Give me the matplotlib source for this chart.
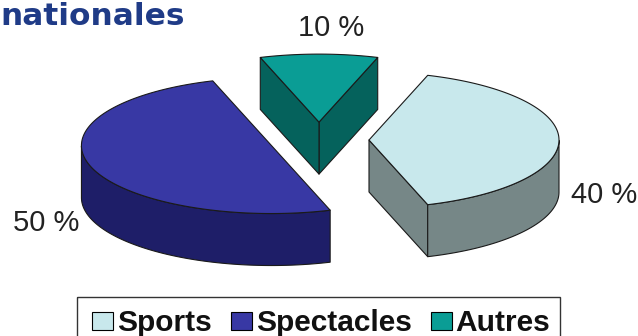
import numpy as np
import matplotlib
matplotlib.use("Agg")
import matplotlib.pyplot as plt
from matplotlib.patches import Polygon, Rectangle

# données
categories = ["Sports", "Spectacles", "Autres"]
valeurs = [40, 50, 10]

couleurs_dessus = ["#c8e8ec", "#3838a4", "#0a9d95"]
couleurs_cote = ["#768787", "#1e1e68", "#05625c"]

# géométrie du camembert 3D (en pixels)
cx, cy = 319, 140
a, b = 190, 68      # demi-axes de l'ellipse
h = 52              # épaisseur
explode = 50
start = 72          # sens horaire
label_pos = [(604, 195), (46, 223), (331, 28)]

fig = plt.figure(figsize=(6.38, 3.36), dpi=100)
ax = fig.add_axes([0, 0, 1, 1])
ax.set_xlim(0, 638)
ax.set_ylim(336, 0)
ax.axis("off")


def point(ox, oy, t, dz=0):
    t = np.radians(t)
    return ox + a * np.cos(t), oy - b * np.sin(t) + dz


def draw_poly(pts, color):
    ax.add_patch(Polygon(pts, closed=True, facecolor=color, edgecolor="#1a1a1a",
                         linewidth=0.8, joinstyle="round"))


fracs = np.array(valeurs) / sum(valeurs)
slices = []
t_end = start
for i, f in enumerate(fracs):
    t1 = t_end - 360 * f
    t2 = t_end
    slices.append((i, t1, t2))
    t_end = t1

# ordre de dessin : de l'arrière vers l'avant
order = sorted(slices, key=lambda s: np.sin(np.radians((s[1] + s[2]) / 2)), reverse=True)

for i, t1, t2 in order:
    tm = np.radians((t1 + t2) / 2)
    ox = cx + explode * np.cos(tm)
    oy = cy - explode * np.sin(tm) * b / a
    top_c = couleurs_dessus[i]
    side_c = couleurs_cote[i]

    # faces radiales
    for t, n in ((t1, t1 - 90), (t2, t2 + 90)):
        if np.sin(np.radians(n)) < -1e-6:
            p = point(ox, oy, t)
            draw_poly([(ox, oy), p, (p[0], p[1] + h), (ox, oy + h)], side_c)

    # face extérieure (partie avant)
    ts = np.linspace(t1, t2, 200)
    front = ts[np.sin(np.radians(ts)) < 0]
    if len(front) > 1:
        up = [point(ox, oy, t) for t in front]
        down = [point(ox, oy, t, h) for t in front[::-1]]
        draw_poly(up + down, side_c)

    # dessus
    top = [(ox, oy)] + [point(ox, oy, t) for t in ts]
    draw_poly(top, top_c)

for i, v in enumerate(valeurs):
    ax.text(label_pos[i][0], label_pos[i][1], f"{v} %", ha="center", va="center",
            fontsize=21, color="#222222", family="Liberation Sans")

ax.text(0, 25, "nationales", ha="left", va="baseline", fontsize=22.5, fontweight="bold",
        color="#1f3b87", family="DejaVu Sans")

# légende (dessinée à la main, coupée en bas comme l'original)
fig.canvas.draw()
renderer = fig.canvas.get_renderer()
x = 92
for i, cat in enumerate(categories):
    ax.add_patch(Rectangle((x, 312), 21, 18, facecolor=couleurs_dessus[i],
                           edgecolor="black", linewidth=0.8))
    t = ax.text(x + 25, 331, cat, ha="left", va="baseline", fontsize=21.5,
                fontweight="bold", family="Liberation Sans", color="#111111")
    w = t.get_window_extent(renderer).width
    x = x + 25 + w + 19
ax.add_patch(Rectangle((77, 297), x - 19 + 10 - 77, 60, facecolor="none",
                       edgecolor="#333333", linewidth=1.0, zorder=0))

fig.savefig("out.png", dpi=100)
